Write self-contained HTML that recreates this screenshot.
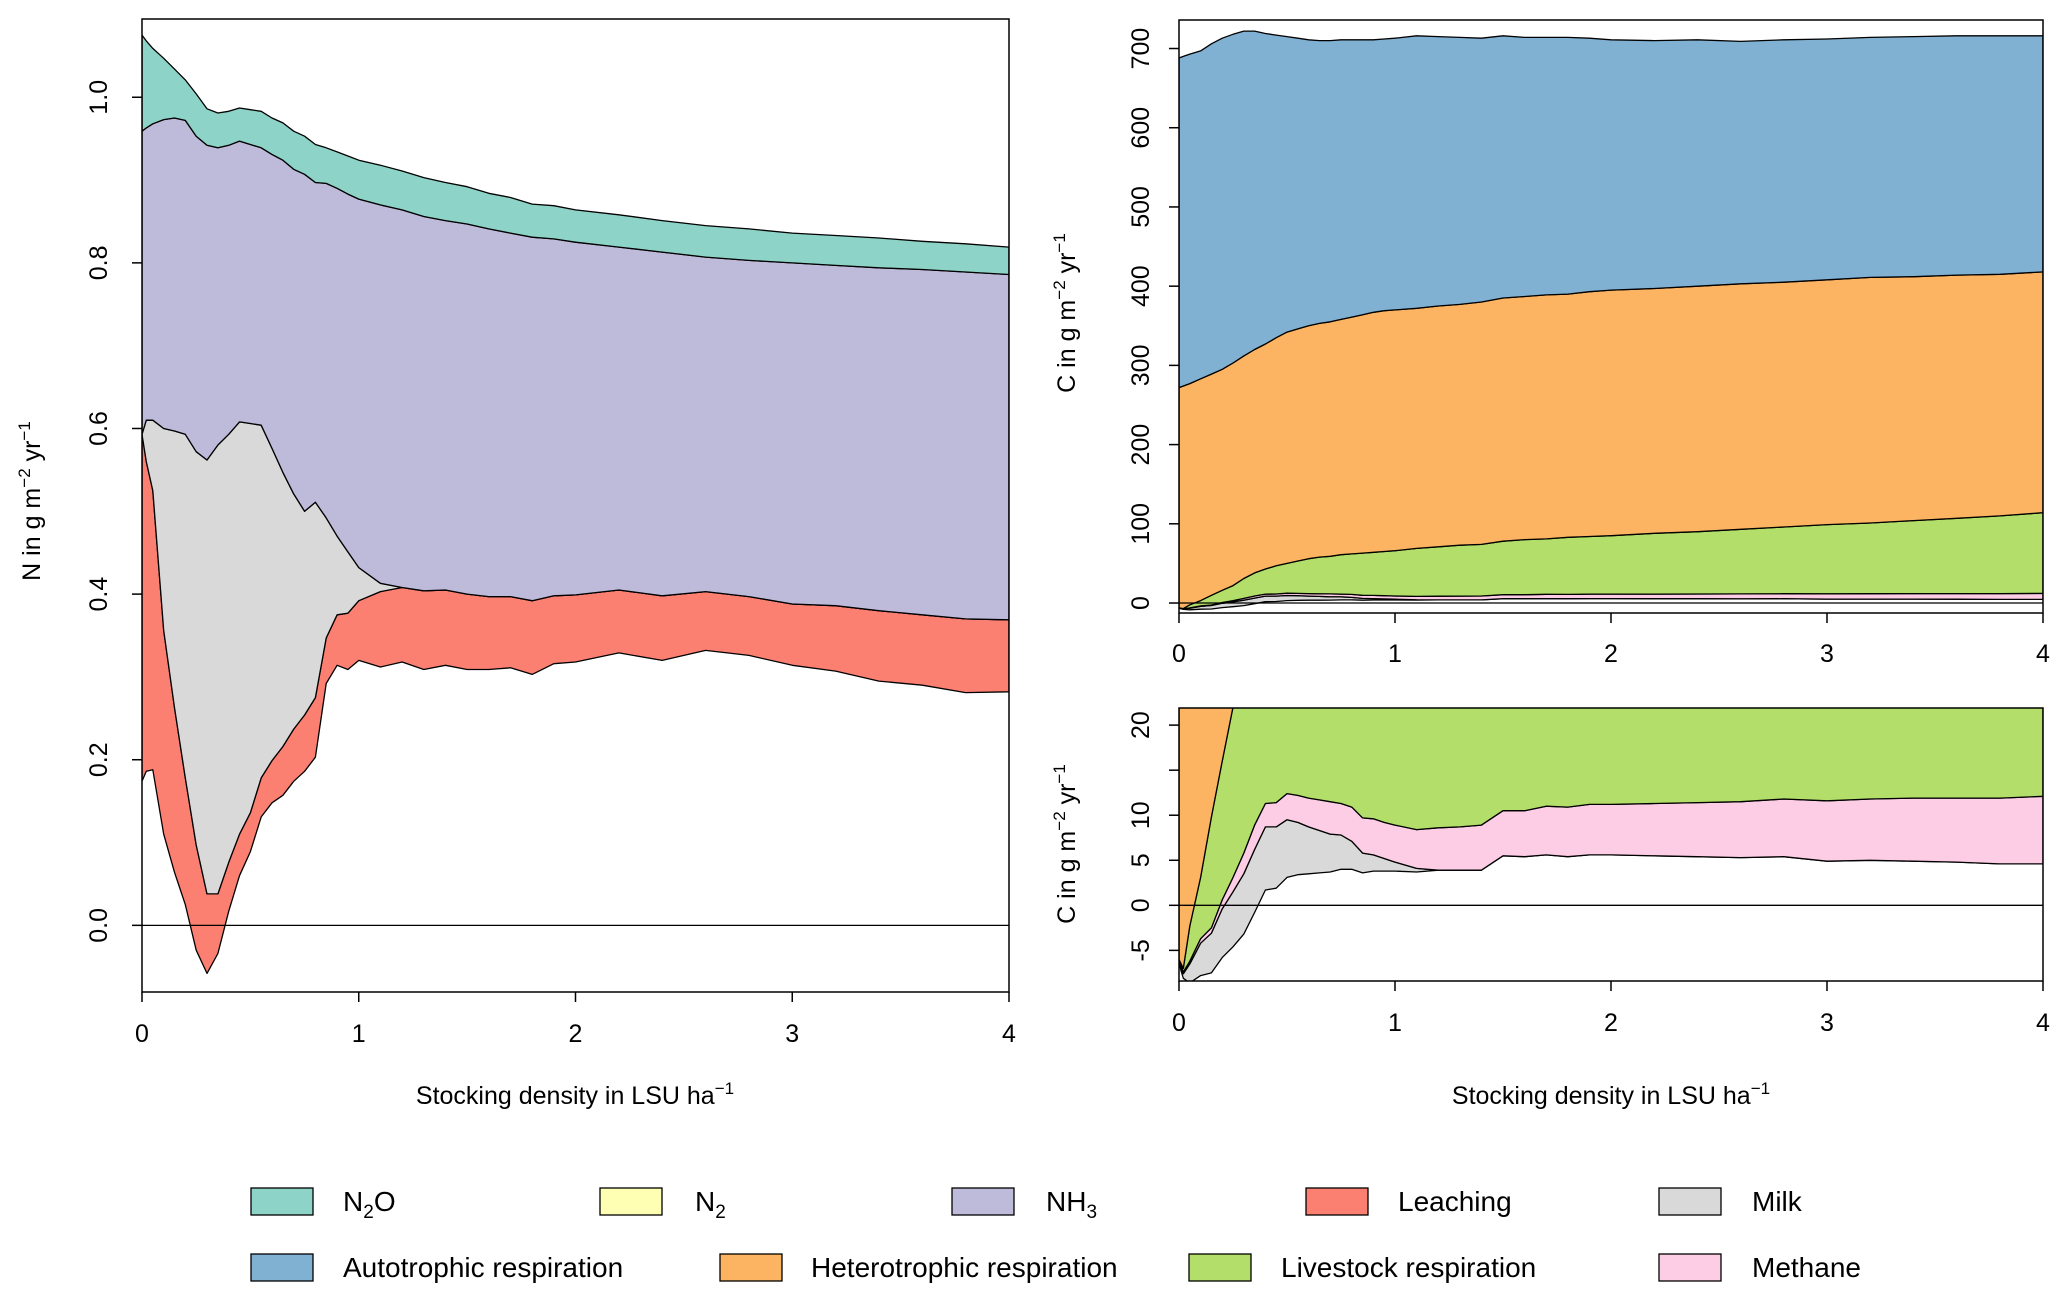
<!DOCTYPE html>
<html><head><meta charset="utf-8">
<style>
html,body{margin:0;padding:0;background:#fff;}
svg{display:block;font-family:"Liberation Sans",Arial,sans-serif;}
text{fill:#000;}
</style></head>
<body>
<svg id="chart" width="2067" height="1300" viewBox="0 0 2067 1300" xmlns="http://www.w3.org/2000/svg"></svg>
<script>
const xs = [0,0.02,0.05,0.1,0.15,0.2,0.25,0.3,0.35,0.4,0.45,0.5,0.55,0.6,0.65,0.7,0.75,0.8,0.85,0.9,0.95,1.0,1.1,1.2,1.3,1.4,1.5,1.6,1.7,1.8,1.9,2.0,2.2,2.4,2.6,2.8,3.0,3.2,3.4,3.6,3.8,4.0];
// Nitrogen panel: stacked boundaries
const nBase = [0.174,0.186,0.188,0.11,0.064,0.025,-0.03,-0.058,-0.034,0.017,0.06,0.089,0.131,0.148,0.157,0.174,0.186,0.203,0.292,0.314,0.309,0.32,0.312,0.318,0.309,0.314,0.309,0.309,0.311,0.303,0.316,0.318,0.329,0.32,0.332,0.326,0.314,0.307,0.295,0.29,0.281,0.282];
const leachTop = [0.593,0.56,0.525,0.356,0.263,0.178,0.097,0.038,0.038,0.076,0.11,0.136,0.178,0.199,0.216,0.237,0.254,0.275,0.347,0.375,0.377,0.392,0.403,0.408,0.404,0.405,0.40,0.397,0.397,0.392,0.398,0.399,0.405,0.398,0.403,0.397,0.388,0.386,0.38,0.375,0.37,0.369];
const milkTop = [0.593,0.61,0.61,0.60,0.597,0.593,0.572,0.562,0.58,0.593,0.608,0.606,0.604,0.576,0.547,0.521,0.5,0.511,0.492,0.47,0.451,0.432,0.413,0.408,0.404,0.405,0.40,0.397,0.397,0.392,0.398,0.399,0.405,0.398,0.403,0.397,0.388,0.386,0.38,0.375,0.37,0.369];
const nh3Top = [0.959,0.963,0.968,0.973,0.975,0.972,0.953,0.942,0.939,0.942,0.947,0.943,0.939,0.931,0.924,0.913,0.907,0.897,0.896,0.89,0.883,0.877,0.87,0.864,0.856,0.851,0.847,0.841,0.836,0.831,0.829,0.825,0.819,0.813,0.807,0.803,0.8,0.797,0.794,0.792,0.789,0.786];
const n2oTop = [1.075,1.068,1.059,1.047,1.034,1.021,1.004,0.986,0.981,0.983,0.987,0.985,0.983,0.975,0.969,0.959,0.953,0.943,0.939,0.934,0.929,0.924,0.918,0.911,0.903,0.897,0.892,0.884,0.879,0.871,0.869,0.864,0.858,0.851,0.845,0.841,0.836,0.833,0.830,0.826,0.823,0.819];
// Carbon panels: stacked boundaries
const cBase = [-6.5,-8.1,-8.6,-7.8,-7.5,-5.8,-4.6,-3.2,-0.8,1.7,1.9,3.1,3.4,3.5,3.6,3.7,4.0,4.0,3.6,3.8,3.8,3.8,3.7,3.9,3.9,3.9,5.5,5.4,5.6,5.4,5.6,5.6,5.5,5.4,5.3,5.4,4.9,5.0,4.9,4.8,4.6,4.6];
const cMilkTop = [-6.5,-7.6,-6.5,-4.2,-3.1,-0.4,1.5,3.5,6.2,8.7,8.7,9.5,9.2,8.7,8.3,7.9,7.8,7.1,5.8,5.6,5.2,4.8,4.1,3.9,3.9,3.9,5.5,5.4,5.6,5.4,5.6,5.6,5.5,5.4,5.3,5.4,4.9,5.0,4.9,4.8,4.6,4.6];
const methTop = [-6.0,-7.4,-6.2,-3.7,-2.5,0.6,3.1,5.8,8.9,11.3,11.4,12.4,12.2,11.9,11.7,11.5,11.3,10.9,9.7,9.6,9.2,8.9,8.4,8.6,8.7,8.9,10.5,10.5,11.0,10.9,11.2,11.2,11.3,11.4,11.5,11.8,11.6,11.8,11.9,11.9,11.9,12.1];
const liveTop = [-6.0,-7.0,-2.3,3.1,9.8,16,22,31,38,43,47,50,53,56,58,59,61,62,63,64,65,66,69,71,73,74,78,80,81,83,84,85,88,90,93,96,99,101,104,107,110,114];
const heteroTop = [272,274,277,283,289,295,303,312,320,327,335,342,346,350,353,355,358,361,364,367,369,370,372,375,377,380,385,387,389,390,393,395,397,400,403,405,408,411,412,414,415,418];
const autoTop = [688,690,693,697,706,713,718,722,722,719,717,715,713,711,710,710,711,711,711,711,712,713,716,715,714,713,716,714,714,714,713,711,710,711,709,711,712,714,715,716,716,716];
const xTicks = [0,1,2,3,4];
const nTicks = [0,0.2,0.4,0.6,0.8,1.0];
const nTickLabels = ["0.0","0.2","0.4","0.6","0.8","1.0"];
const cTicks = [0,100,200,300,400,500,600,700];
const cSmallTicks = [-5,0,5,10,15,20];
const cSmallLabels = ["-5","0","5","10","","20"];

const NS="http://www.w3.org/2000/svg";
const svg=document.getElementById('chart');
function mk(tag,attrs,parent){const e=document.createElementNS(NS,tag);for(const k in attrs)e.setAttribute(k,attrs[k]);(parent||svg).appendChild(e);return e;}

function panel(name,x0,x1,y0,y1,vmin,vmax){
  const g=mk('g',{});
  
  
  const sx=v=>x0+(x1-x0)*v/4;
  const sy=v=>y1-(y1-y0)*(v-vmin)/(vmax-vmin);
  const cid='clip-'+name;
  const cp=mk('clipPath',{id:cid},g);mk('rect',{x:x0,y:y0,width:x1-x0,height:y1-y0},cp);
  const area=mk('g',{'clip-path':'url(#'+cid+')'},g);
  return {g,sx,sy,area,x0,x1,y0,y1};
}
function layer(p,lo,hi,color,name){
  let d='M'+xs.map((x,i)=>p.sx(x).toFixed(1)+','+p.sy(hi[i]).toFixed(1)).join('L');
  for(let i=xs.length-1;i>=0;i--)d+='L'+p.sx(xs[i]).toFixed(1)+','+p.sy(lo[i]).toFixed(1);
  const e=mk('path',{d:d+'Z',fill:color,stroke:'#000','stroke-width':1.3,'stroke-linejoin':'round'},p.area);
  
  
}
function zero(p){
  const e=mk('line',{x1:p.x0,x2:p.x1,y1:p.sy(0),y2:p.sy(0),stroke:'#000','stroke-width':1.3},p.area);
  
  
}
function frame(p,labelY){
  mk('rect',{x:p.x0,y:p.y0,width:p.x1-p.x0,height:p.y1-p.y0,fill:'none',stroke:'#000','stroke-width':1.5},p.g);
  xTicks.forEach(t=>{
    mk('line',{x1:p.sx(t),x2:p.sx(t),y1:p.y1,y2:p.y1+10,stroke:'#000','stroke-width':1.5},p.g);
    const tx=mk('text',{x:p.sx(t),y:labelY,'font-size':25,'text-anchor':'middle'},p.g);tx.textContent=t;
    
    
  });
}
function yaxis(p,ticks,labels,lx){
  ticks.forEach((t,i)=>{
    const y=p.sy(t);
    mk('line',{x1:p.x0-10,x2:p.x0,y1:y,y2:y,stroke:'#000','stroke-width':1.5},p.g);
    if(labels[i]!==''){
      const tx=mk('text',{x:lx,y:y,'font-size':25,'text-anchor':'middle',transform:'rotate(-90 '+lx+' '+y+')'},p.g);
      tx.textContent=labels[i];
      
      
    }
  });
}
function ytitle(x,y,prefix,name){
  const t=mk('text',{x:x,y:y,'font-size':25,'text-anchor':'middle',transform:'rotate(-90 '+x+' '+y+')'});
  
  
  t.innerHTML=prefix+' in g m<tspan dy="-10" font-size="17">\u22122</tspan><tspan dy="10"> yr</tspan><tspan dy="-10" font-size="17">\u22121</tspan>';
}
function xtitle(x,y){
  const t=mk('text',{x:x,y:y,'font-size':25,'text-anchor':'middle'});
  
  
  t.innerHTML='Stocking density in LSU ha<tspan dy="-10" font-size="17">\u22121</tspan>';
}

// Left N panel
const pN=panel('nitrogen-panel',142,1009,19,992,-0.0805,1.0945);
layer(pN,nBase,leachTop,'#fb8072','leaching-area');
layer(pN,leachTop,milkTop,'#d9d9d9','milk-area');
layer(pN,milkTop,nh3Top,'#bebada','nh3-area');
layer(pN,nh3Top,n2oTop,'#8dd3c7','n2o-area');
zero(pN);
frame(pN,1042);
yaxis(pN,nTicks,nTickLabels,107);
ytitle(40,501,'N','n-y-axis-title');
xtitle(575,1104);

// Right top C panel
const pC=panel('carbon-panel',1179,2043,20,613,-12.6,736);
layer(pC,cBase,cMilkTop,'#d9d9d9','c-milk-area');
layer(pC,cMilkTop,methTop,'#fccde5','methane-area');
layer(pC,methTop,liveTop,'#b3de69','livestock-area');
layer(pC,liveTop,heteroTop,'#fdb462','heterotrophic-area');
layer(pC,heteroTop,autoTop,'#80b1d3','autotrophic-area');
zero(pC);
frame(pC,662);
yaxis(pC,cTicks,cTicks.map(String),1149);
ytitle(1075,313,'C','c-y-axis-title');

// Right bottom zoom panel
const pS=panel('carbon-detail-panel',1179,2043,708,981,-8.4,21.9);
layer(pS,cBase,cMilkTop,'#d9d9d9','detail-milk-area');
layer(pS,cMilkTop,methTop,'#fccde5','detail-methane-area');
layer(pS,methTop,liveTop,'#b3de69','detail-livestock-area');
layer(pS,liveTop,heteroTop,'#fdb462','detail-heterotrophic-area');
layer(pS,heteroTop,autoTop,'#80b1d3','detail-autotrophic-area');
zero(pS);
frame(pS,1031);
yaxis(pS,cSmallTicks,cSmallLabels,1149);
ytitle(1075,844,'C','detail-y-axis-title');
xtitle(1611,1104);

// Legend
const legend=[
 ['#8dd3c7','N<tspan dy="7" font-size="19">2</tspan><tspan dy="-7">O</tspan>',251,343,1202,'legend-n2o'],
 ['#ffffb3','N<tspan dy="7" font-size="19">2</tspan>',600,695,1202,'legend-n2'],
 ['#bebada','NH<tspan dy="7" font-size="19">3</tspan>',952,1046,1202,'legend-nh3'],
 ['#fb8072','Leaching',1306,1398,1202,'legend-leaching'],
 ['#d9d9d9','Milk',1659,1752,1202,'legend-milk'],
 ['#80b1d3','Autotrophic respiration',251,343,1268,'legend-autotrophic'],
 ['#fdb462','Heterotrophic respiration',720,811,1268,'legend-heterotrophic'],
 ['#b3de69','Livestock respiration',1189,1281,1268,'legend-livestock'],
 ['#fccde5','Methane',1659,1752,1268,'legend-methane']
];
legend.forEach(l=>{
  const g=mk('g',{});
  
  
  mk('rect',{x:l[2],y:l[4]-14,width:62,height:27,fill:l[0],stroke:'#000','stroke-width':1.3},g);
  const t=mk('text',{x:l[3],y:l[4]+9,'font-size':28},g);
  t.innerHTML=l[1];
});
</script>
</body></html>
